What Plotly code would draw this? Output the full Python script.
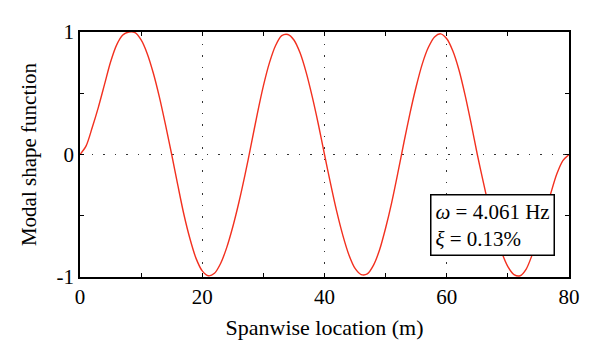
import plotly.graph_objects as go

# Spanwise location (m)
span_x = [0, 1, 2, 3, 4, 5, 6, 7, 8, 9,
          10, 11, 12, 13, 14, 15, 16, 17, 18, 19,
          20, 21, 22, 23, 24, 25, 26, 27, 28, 29,
          30, 31, 32, 33, 34, 35, 36, 37, 38, 39,
          40, 41, 42, 43, 44, 45, 46, 47, 48, 49,
          50, 51, 52, 53, 54, 55, 56, 57, 58, 59,
          60, 61, 62, 63, 64, 65, 66, 67, 68, 69,
          70, 71, 72, 73, 74, 75, 76, 77, 78, 79, 80]

# Modal shape function values
mode_y = [0.0, 0.07, 0.22, 0.385, 0.57, 0.755, 0.895, 0.975, 1.0, 0.995,
          0.935, 0.823, 0.663, 0.466, 0.239, 0.0, -0.25, -0.49, -0.69, -0.85,
          -0.95, -0.99, -0.97, -0.89, -0.76, -0.59, -0.39, -0.165, 0.08, 0.33,
          0.56, 0.75, 0.89, 0.97, 0.98, 0.935, 0.83, 0.67, 0.47, 0.245,
          0.0, -0.24, -0.465, -0.66, -0.82, -0.93, -0.98, -0.975, -0.905, -0.78,
          -0.60, -0.39, -0.15, 0.10, 0.34, 0.555, 0.74, 0.875, 0.96, 0.985,
          0.945, 0.845, 0.69, 0.485, 0.25, 0.0, -0.23, -0.45, -0.645, -0.80,
          -0.915, -0.98, -0.99, -0.935, -0.815, -0.66, -0.49, -0.32, -0.16, -0.05, 0.0]

x_ticks = [0, 20, 40, 60, 80]
y_ticks = [-1, 0, 1]
y_tick_labels = ["-1", "0", "1"]

FONT = "Liberation Serif"

fig = go.Figure()
fig.add_trace(go.Scatter(
    x=span_x, y=mode_y, mode="lines",
    line=dict(color="#f2301f", width=1.4, shape="spline", smoothing=0.8),
    showlegend=False, hoverinfo="skip"))

axis_common = dict(
    showline=True, linecolor="black", linewidth=1.5, mirror="ticks",
    ticks="inside", ticklen=4, tickwidth=1.2, tickcolor="black",
    showgrid=True, gridcolor="#333333", gridwidth=1.2, griddash="1.5px,10px",
    zeroline=False,
    tickfont=dict(family=FONT, size=21, color="black"),
)

fig.update_xaxes(
    range=[0, 80], tickmode="array", tickvals=x_ticks,
    ticktext=[str(v) for v in x_ticks],
    minor=dict(dtick=10, tick0=0, ticks="inside", ticklen=4, tickwidth=1.2,
               tickcolor="black", showgrid=False),
    title_text="Spanwise location (m)", title_standoff=12,
    title_font=dict(family=FONT, size=22, color="black"),
    **axis_common)
fig.update_yaxes(
    range=[-1, 1], tickmode="array", tickvals=y_ticks, ticktext=y_tick_labels,
    minor=dict(dtick=0.5, tick0=0, ticks="inside", ticklen=4, tickwidth=1.2,
               tickcolor="black", showgrid=False),
    title_text="Modal shape function", title_standoff=14,
    title_font=dict(family=FONT, size=21, color="black"),
    **axis_common)

fig.add_annotation(
    x=77.75, y=-0.827, xref="x", yref="y", xanchor="right", yanchor="bottom",
    text="<i>ω</i> = 4.061 Hz<br><i>ξ</i> = 0.13%",
    showarrow=False, align="left",
    font=dict(family=FONT, size=21, color="black"),
    bgcolor="white", bordercolor="black", borderwidth=1.5, borderpad=4)

fig.update_layout(
    width=592, height=352,
    margin=dict(l=72, r=31, t=22, b=83),
    paper_bgcolor="white", plot_bgcolor="white",
    font=dict(family=FONT, color="black"),
)

fig.write_html("out.html")
